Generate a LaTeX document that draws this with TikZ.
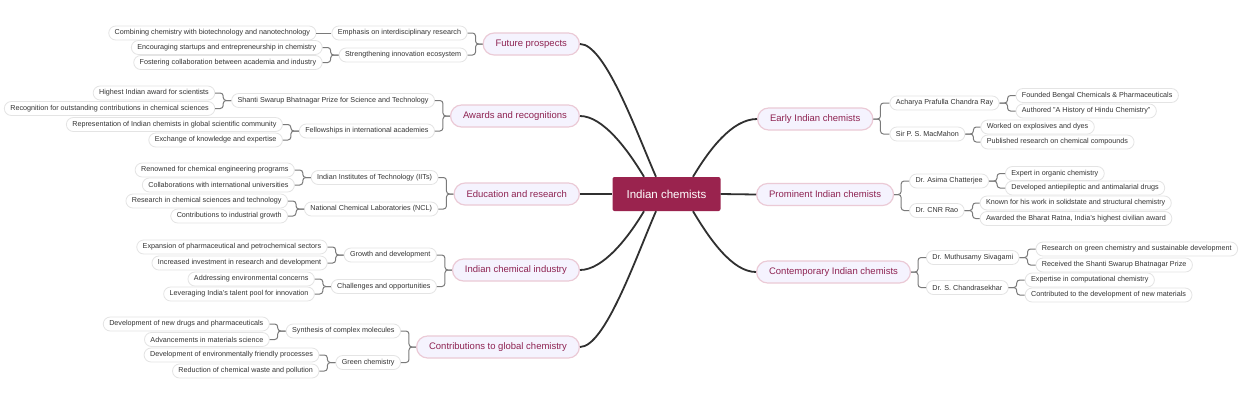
\documentclass[tikz,border=0pt]{standalone}
\usepackage{fontspec}
\setmainfont{Liberation Sans}
\usetikzlibrary{calc}
\definecolor{rootc}{HTML}{9A234E}
\definecolor{crim}{HTML}{8E2352}
\definecolor{lavc}{HTML}{F5F3FE}
\definecolor{pinkc}{HTML}{EBCAD6}
\definecolor{subb}{HTML}{E4E4E4}
\definecolor{txtc}{HTML}{333333}
\definecolor{edgec}{HTML}{303030}
\definecolor{brc}{HTML}{7A7A7A}
\begin{document}
\begin{tikzpicture}[x=1pt,y=-1pt,
 rootnode/.style={fill=rootc, rounded corners=2pt, minimum width=108pt, minimum height=34pt, inner sep=0pt, text=white, font=\fontsize{11.5}{13}\selectfont},
 mainnode/.style={draw=pinkc, line width=1.2pt, fill=lavc, rounded corners=11pt, text=crim, font=\fontsize{9.5}{11}\selectfont, minimum height=22pt, inner xsep=12.5pt, inner ysep=0pt},
 subnode/.style={draw=subb, line width=0.8pt, fill=white, rounded corners=7pt, text=txtc, font=\fontsize{7.2}{8.5}\selectfont, minimum height=14pt, inner xsep=6pt, inner ysep=0pt},
 mainedge/.style={draw=edgec, line width=1.8pt},
 brack/.style={draw=brc, line width=1pt, rounded corners=3pt},
]
\useasboundingbox (0,0) rectangle (1240,400);
\fill[white] (0,0) rectangle (1240,400);

\node[rootnode] (root) at (666.5,194) {Indian chemists};

% ---------- left side ----------
\node[mainnode, anchor=east] (fp) at (580,44) {Future prospects};
\node[subnode, anchor=east] (fp1) at ($(fp.west |- 0,33)+(-15,0)$) {Emphasis on interdisciplinary research};
\node[subnode, anchor=east] (fp2) at ($(fp.west |- 0,55)+(-15,0)$) {Strengthening innovation ecosystem};
\node[subnode, anchor=east] (fp11) at ($(fp1.west |- 0,33)+(-15,0)$) {Combining chemistry with biotechnology and nanotechnology};
\node[subnode, anchor=east] (fp21) at ($(fp2.west |- 0,47.5)+(-16,0)$) {Encouraging startups and entrepreneurship in chemistry};
\node[subnode, anchor=east] (fp22) at ($(fp2.west |- 0,62.5)+(-16,0)$) {Fostering collaboration between academia and industry};

\node[mainnode, anchor=east] (aw) at (580,116) {Awards and recognitions};
\node[subnode, anchor=east] (aw1) at ($(aw.west |- 0,100.5)+(-15,0)$) {Shanti Swarup Bhatnagar Prize for Science and Technology};
\node[subnode, anchor=east] (aw2) at ($(aw.west |- 0,131)+(-15,0)$) {Fellowships in international academies};
\node[subnode, anchor=east] (aw11) at ($(aw1.west |- 0,93)+(-16,0)$) {Highest Indian award for scientists};
\node[subnode, anchor=east] (aw12) at ($(aw1.west |- 0,108.5)+(-16,0)$) {Recognition for outstanding contributions in chemical sciences};
\node[subnode, anchor=east] (aw21) at ($(aw2.west |- 0,124.5)+(-16,0)$) {Representation of Indian chemists in global scientific community};
\node[subnode, anchor=east] (aw22) at ($(aw2.west |- 0,140)+(-16,0)$) {Exchange of knowledge and expertise};

\node[mainnode, anchor=east] (ed) at (580,194) {Education and research};
\node[subnode, anchor=east] (ed1) at ($(ed.west |- 0,177.5)+(-15,0)$) {Indian Institutes of Technology (IITs)};
\node[subnode, anchor=east] (ed2) at ($(ed.west |- 0,209)+(-15,0)$) {National Chemical Laboratories (NCL)};
\node[subnode, anchor=east] (ed11) at ($(ed1.west |- 0,170)+(-16,0)$) {Renowned for chemical engineering programs};
\node[subnode, anchor=east] (ed12) at ($(ed1.west |- 0,185)+(-16,0)$) {Collaborations with international universities};
\node[subnode, anchor=east] (ed21) at ($(ed2.west |- 0,201)+(-16,0)$) {Research in chemical sciences and technology};
\node[subnode, anchor=east] (ed22) at ($(ed2.west |- 0,216)+(-16,0)$) {Contributions to industrial growth};

\node[mainnode, anchor=east] (ind) at (580,270) {Indian chemical industry};
\node[subnode, anchor=east] (ind1) at ($(ind.west |- 0,255)+(-15,0)$) {Growth and development};
\node[subnode, anchor=east] (ind2) at ($(ind.west |- 0,286.5)+(-15,0)$) {Challenges and opportunities};
\node[subnode, anchor=east] (ind11) at ($(ind1.west |- 0,247)+(-16,0)$) {Expansion of pharmaceutical and petrochemical sectors};
\node[subnode, anchor=east] (ind12) at ($(ind1.west |- 0,263)+(-16,0)$) {Increased investment in research and development};
\node[subnode, anchor=east] (ind21) at ($(ind2.west |- 0,279)+(-16,0)$) {Addressing environmental concerns};
\node[subnode, anchor=east] (ind22) at ($(ind2.west |- 0,294)+(-16,0)$) {Leveraging India's talent pool for innovation};

\node[mainnode, anchor=east] (cg) at (580,347) {Contributions to global chemistry};
\node[subnode, anchor=east] (cg1) at ($(cg.west |- 0,331)+(-15,0)$) {Synthesis of complex molecules};
\node[subnode, anchor=east] (cg2) at ($(cg.west |- 0,362.5)+(-15,0)$) {Green chemistry};
\node[subnode, anchor=east] (cg11) at ($(cg1.west |- 0,324)+(-16,0)$) {Development of new drugs and pharmaceuticals};
\node[subnode, anchor=east] (cg12) at ($(cg1.west |- 0,339.5)+(-16,0)$) {Advancements in materials science};
\node[subnode, anchor=east] (cg21) at ($(cg2.west |- 0,355)+(-16,0)$) {Development of environmentally friendly processes};
\node[subnode, anchor=east] (cg22) at ($(cg2.west |- 0,371)+(-16,0)$) {Reduction of chemical waste and pollution};

% ---------- right side ----------
\node[mainnode, anchor=west] (ea) at (757,119) {Early Indian chemists};
\node[subnode, anchor=west] (ea1) at ($(ea.east |- 0,103)+(16,0)$) {Acharya Prafulla Chandra Ray};
\node[subnode, anchor=west] (ea2) at ($(ea.east |- 0,134)+(16,0)$) {Sir P. S. MacMahon};
\node[subnode, anchor=west] (ea11) at ($(ea1.east |- 0,95.5)+(16,0)$) {Founded Bengal Chemicals \& Pharmaceuticals};
\node[subnode, anchor=west] (ea12) at ($(ea1.east |- 0,111)+(16,0)$) {Authored "A History of Hindu Chemistry"};
\node[subnode, anchor=west] (ea21) at ($(ea2.east |- 0,127)+(15,0)$) {Worked on explosives and dyes};
\node[subnode, anchor=west] (ea22) at ($(ea2.east |- 0,142)+(15,0)$) {Published research on chemical compounds};

\node[mainnode, anchor=west] (pr) at (756,194.5) {Prominent Indian chemists};
\node[subnode, anchor=west] (pr1) at ($(pr.east |- 0,181)+(15,0)$) {Dr. Asima Chatterjee};
\node[subnode, anchor=west] (pr2) at ($(pr.east |- 0,210.5)+(15,0)$) {Dr. CNR Rao};
\node[subnode, anchor=west] (pr11) at ($(pr1.east |- 0,173.5)+(16,0)$) {Expert in organic chemistry};
\node[subnode, anchor=west] (pr12) at ($(pr1.east |- 0,188)+(16,0)$) {Developed antiepileptic and antimalarial drugs};
\node[subnode, anchor=west] (pr21) at ($(pr2.east |- 0,203)+(15,0)$) {Known for his work in solidstate and structural chemistry};
\node[subnode, anchor=west] (pr22) at ($(pr2.east |- 0,218.5)+(15,0)$) {Awarded the Bharat Ratna, India's highest civilian award};

\node[mainnode, anchor=west] (co) at (756,272) {Contemporary Indian chemists};
\node[subnode, anchor=west] (co1) at ($(co.east |- 0,257.5)+(15,0)$) {Dr. Muthusamy Sivagami};
\node[subnode, anchor=west] (co2) at ($(co.east |- 0,287.5)+(15,0)$) {Dr. S. Chandrasekhar};
\node[subnode, anchor=west] (co11) at ($(co1.east |- 0,249)+(16,0)$) {Research on green chemistry and sustainable development};
\node[subnode, anchor=west] (co12) at ($(co1.east |- 0,265)+(16,0)$) {Received the Shanti Swarup Bhatnagar Prize};
\node[subnode, anchor=west] (co21) at ($(co2.east |- 0,280)+(16,0)$) {Expertise in computational chemistry};
\node[subnode, anchor=west] (co22) at ($(co2.east |- 0,295)+(16,0)$) {Contributed to the development of new materials};

% ---------- main edges ----------
\draw[mainedge] (fp.east) .. controls (605,44) and (636,131) .. ($(root.north)+(-10.5,0)$);
\draw[mainedge] (aw.east) .. controls (603,116) and (628,150) .. ($(root.north)+(-22.5,0)$);
\draw[mainedge] (ed.east) -- (root.west);
\draw[mainedge] (ind.east) .. controls (603,270) and (628,238) .. ($(root.south)+(-22.5,0)$);
\draw[mainedge] (cg.east) .. controls (605,347) and (636,257) .. ($(root.south)+(-10.5,0)$);
\draw[mainedge] ($(root.north)+(26.5,0)$) .. controls (709,150) and (732,119) .. (ea.west);
\draw[mainedge] (root.east) -- (pr.west);
\draw[mainedge] ($(root.south)+(26.5,0)$) .. controls (709,238) and (732,272) .. (co.west);

% ---------- brackets, left ----------
\foreach \p/\c in {fp/fp1, fp/fp2, aw/aw1, aw/aw2, ed/ed1, ed/ed2, ind/ind1, ind/ind2, cg/cg1, cg/cg2}
  \draw[brack] (\p.west) -- ++(-7,0) |- (\c.east);
\draw[brack] (fp1.west) -- (fp11.east);
\foreach \p/\c in {fp2/fp21, fp2/fp22, aw1/aw11, aw1/aw12, aw2/aw21, aw2/aw22, ed1/ed11, ed1/ed12, ed2/ed21, ed2/ed22, ind1/ind11, ind1/ind12, ind2/ind21, ind2/ind22, cg1/cg11, cg1/cg12, cg2/cg21, cg2/cg22}
  \draw[brack] (\p.west) -- ++(-8,0) |- (\c.east);

% ---------- brackets, right ----------
\foreach \p/\c in {ea/ea1, ea/ea2, pr/pr1, pr/pr2, co/co1, co/co2}
  \draw[brack] (\p.east) -- ++(7,0) |- (\c.west);
\foreach \p/\c in {ea1/ea11, ea1/ea12, ea2/ea21, ea2/ea22, pr1/pr11, pr1/pr12, pr2/pr21, pr2/pr22, co1/co11, co1/co12, co2/co21, co2/co22}
  \draw[brack] (\p.east) -- ++(8,0) |- (\c.west);
\end{tikzpicture}
\end{document}
